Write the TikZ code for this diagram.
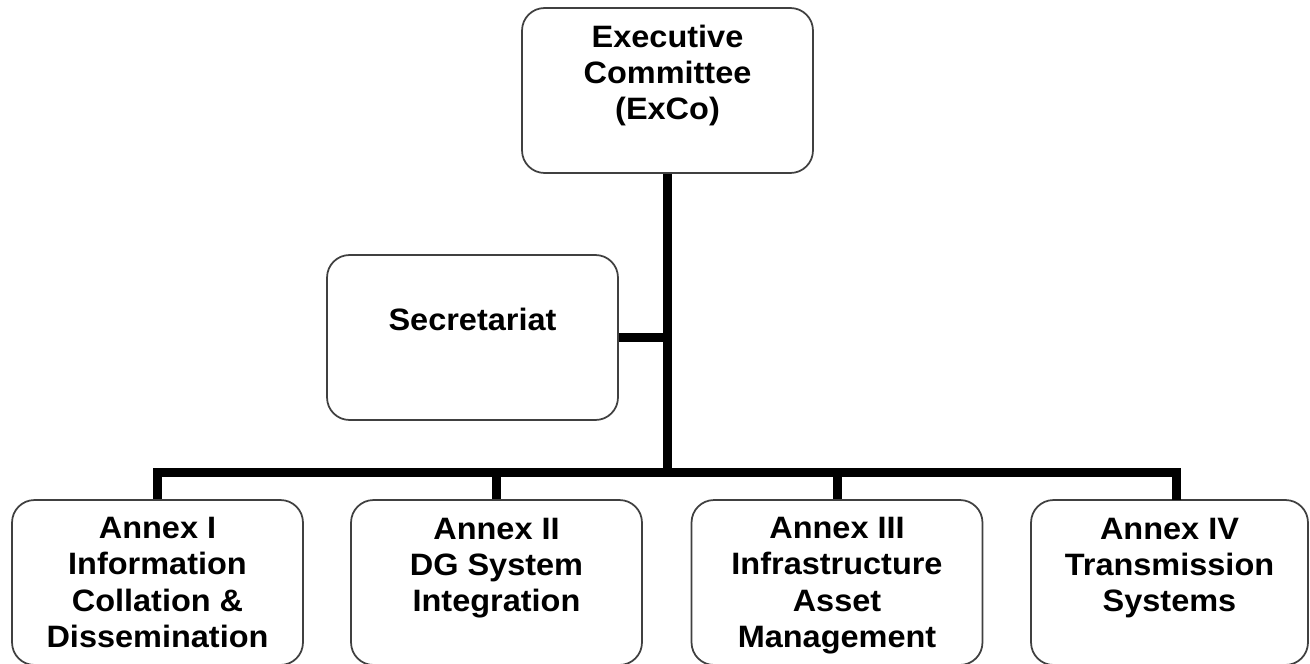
\documentclass[tikz,border=0pt]{standalone}
\usepackage{fontspec}
\setmainfont{Liberation Sans}[FakeStretch=1.05]
\usepackage{tikz}

\begin{document}
\begin{tikzpicture}[x=0.02cm,y=-0.02cm]
	 \tikzstyle{unit}=[rectangle,rounded corners=0.45cm,draw=black!75,line width=0.035cm,fill=white,minimum width=5.82cm,minimum height=3.3cm,inner sep=0pt,align=center,font=\fontsize{17.6}{20.5}\selectfont\bfseries]
	 \tikzstyle{narrow unit} = [unit, minimum width=5.54cm]
	 \tikzstyle{link} = [draw,line width=0.18cm,-,black]

	 \useasboundingbox (0,0) rectangle (1310,663);

	 \node[unit] (exco) at (667.5,90.5) {Executive\\Committee\\(ExCo)\\\mbox{}};
	 \node[unit] (sec) at (472.5,337.5) {Secretariat\\\mbox{}};
	 \node[unit] (a1) at (157.5,582.5) {Annex I\\Information\\Collation \&\\Dissemination};
	 \node[unit] (a2) at (496.5,582.5) {Annex II\\DG System\\Integration\\\mbox{}};
	 \node[unit] (a3) at (837,582.5) {Annex III\\Infrastructure\\Asset\\Mana\smash{g}ement};
	 \node[narrow unit] (a4) at (1169.5,582.5) {Annex IV\\Transmission\\Systems\\\mbox{}};

	 \coordinate (bus) at (667.5,472.5);
	 \coordinate (d4) at (1176,500);

	 \draw[link] (exco.south) -- (exco.south |- bus);
	 \draw[link] (sec.east) -- (sec.east -| exco.south);
	 \draw[link] (a1.north) |- (bus) -| (d4);
	 \draw[link] (a2.north) -- (a2.north |- bus);
	 \draw[link] (a3.north) -- (a3.north |- bus);
\end{tikzpicture}
\end{document}
